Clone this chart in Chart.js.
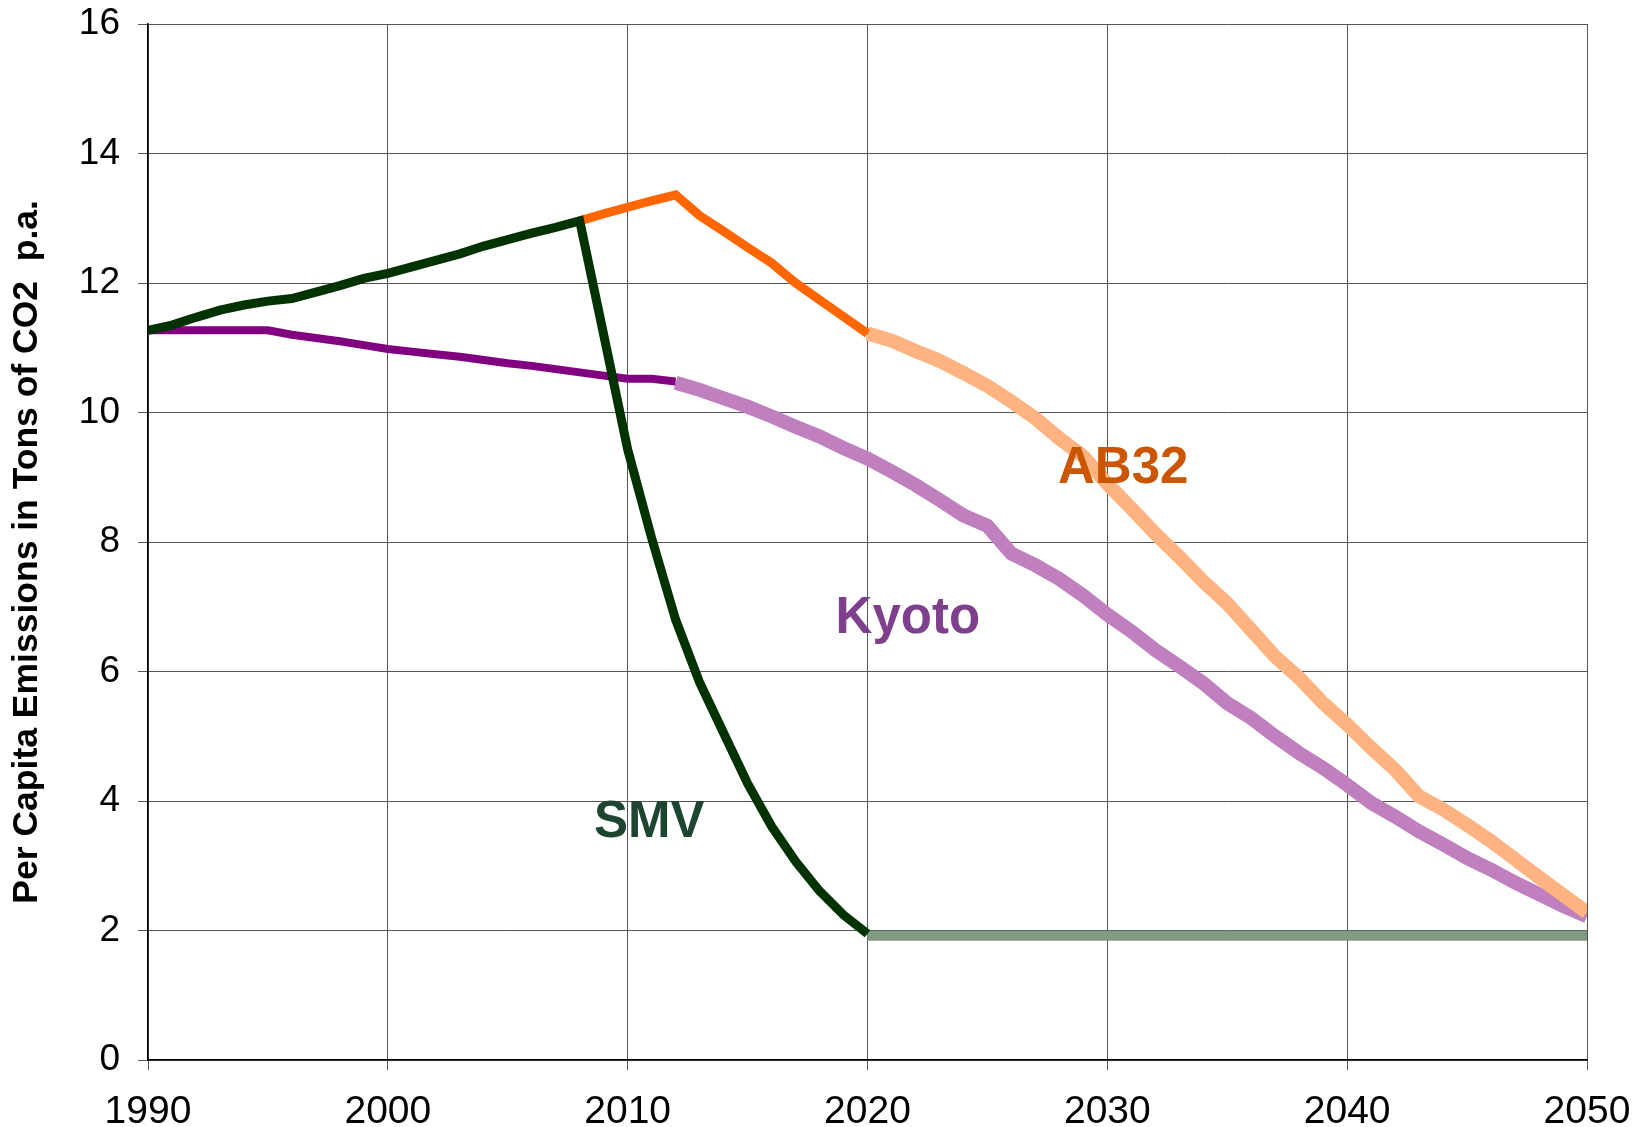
<!DOCTYPE html>
<html>
<head>
<meta charset="utf-8">
<title>Per Capita Emissions</title>
<script src="https://cdn.jsdelivr.net/npm/chart.js@4.4.0/dist/chart.umd.min.js"></script>
<style>
html, body { margin: 0; padding: 0; background: #fff; }
</style>
</head>
<body>
<canvas id="myChart" width="1637" height="1127"></canvas>
<script>
// axis ticks
var xTicks = [1990, 2000, 2010, 2020, 2030, 2040, 2050];
var yTicks = [0, 2, 4, 6, 8, 10, 12, 14, 16];

// SMV: historic + path down, then the flat target
var smvYears = [1990, 1991, 1992, 1993, 1994, 1995, 1996, 1997, 1998, 1999, 2000,
    2001, 2002, 2003, 2004, 2005, 2006, 2007, 2008, 2009, 2010,
    2011, 2012, 2013, 2014, 2015, 2016, 2017, 2018, 2019, 2020];
var smvValues = [11.27, 11.35, 11.47, 11.58, 11.66, 11.72, 11.76, 11.86, 11.96, 12.07, 12.15,
    12.25, 12.35, 12.45, 12.57, 12.67, 12.77, 12.86, 12.96, 11.2, 9.43,
    8.06, 6.8, 5.83, 5.05, 4.27, 3.61, 3.07, 2.61, 2.24, 1.95];
var smvTargetYears = [2020, 2050];
var smvTargetValues = [1.92, 1.92];

// Kyoto
var kyotoYears = [1990, 1991, 1992, 1993, 1994, 1995, 1996, 1997, 1998, 1999, 2000,
    2001, 2002, 2003, 2004, 2005, 2006, 2007, 2008, 2009, 2010, 2011, 2012];
var kyotoValues = [11.27, 11.27, 11.27, 11.27, 11.27, 11.27, 11.2, 11.15, 11.1, 11.04, 10.98,
    10.94, 10.9, 10.86, 10.81, 10.76, 10.72, 10.67, 10.62, 10.57, 10.52, 10.52, 10.48];
var kyotoPlanYears = [2012, 2013, 2014, 2015, 2016, 2017, 2018, 2019, 2020,
    2021, 2022, 2023, 2024, 2025, 2026, 2027, 2028, 2029, 2030,
    2031, 2032, 2033, 2034, 2035, 2036, 2037, 2038, 2039, 2040,
    2041, 2042, 2043, 2044, 2045, 2046, 2047, 2048, 2049, 2050];
var kyotoPlanValues = [10.46, 10.35, 10.22, 10.09, 9.94, 9.78, 9.63, 9.45, 9.29,
    9.09, 8.88, 8.65, 8.41, 8.25, 7.82, 7.64, 7.43, 7.17, 6.88,
    6.62, 6.33, 6.08, 5.82, 5.51, 5.28, 5.0, 4.74, 4.51, 4.25,
    3.97, 3.76, 3.53, 3.33, 3.12, 2.94, 2.74, 2.56, 2.38, 2.22];

// AB32
var ab32Years = [2008, 2009, 2010, 2011, 2012, 2013, 2014, 2015, 2016, 2017, 2018, 2019, 2020];
var ab32Values = [12.96, 13.07, 13.17, 13.27, 13.36, 13.04, 12.8, 12.55, 12.31, 12.0, 11.74, 11.48, 11.22];
var ab32PlanYears = [2020, 2021, 2022, 2023, 2024, 2025, 2026, 2027, 2028, 2029, 2030,
    2031, 2032, 2033, 2034, 2035, 2036, 2037, 2038, 2039, 2040,
    2041, 2042, 2043, 2044, 2045, 2046, 2047, 2048, 2049, 2050];
var ab32PlanValues = [11.22, 11.11, 10.95, 10.8, 10.61, 10.41, 10.17, 9.91, 9.6, 9.32, 8.9,
    8.52, 8.13, 7.77, 7.39, 7.05, 6.64, 6.23, 5.9, 5.51, 5.18,
    4.82, 4.48, 4.07, 3.87, 3.63, 3.38, 3.1, 2.82, 2.55, 2.28];

// in-chart labels
var labelText = ['AB32', 'Kyoto', 'SMV'];
var labelYear = [2030.66, 2021.68, 2010.9];
var labelValue = [8.91, 6.59, 3.44];
var labelColors = ['#CC5500', '#7E3F8C', '#1E4530'];

var FONT = '"Liberation Sans", Arial, sans-serif';

function toPoints(years, values) {
    var pts = [];
    for (var i = 0; i < years.length; i++) {
        pts.push({x: years[i], y: values[i]});
    }
    return pts;
}

function line(data, color, width) {
    return {
        data: data,
        borderColor: color,
        borderWidth: width,
        pointRadius: 0,
        tension: 0,
        fill: false,
        borderCapStyle: 'butt',
        borderJoinStyle: 'miter'
    };
}

var labelPlugin = {
    id: 'seriesLabels',
    afterDatasetsDraw: function (chart) {
        var ctx = chart.ctx;
        var xs = chart.scales.x, ys = chart.scales.y;
        ctx.save();
        ctx.font = 'bold 51px ' + FONT;
        ctx.textAlign = 'center';
        ctx.textBaseline = 'alphabetic';
        for (var i = 0; i < labelText.length; i++) {
            ctx.fillStyle = labelColors[i];
            ctx.fillText(labelText[i], xs.getPixelForValue(labelYear[i]), ys.getPixelForValue(labelValue[i]));
        }
        ctx.restore();
    }
};

// first dataset ends up on top
var chartdata = {
    datasets: [
        line(toPoints(smvYears, smvValues), '#003300', 9),
        line(toPoints(ab32Years, ab32Values), '#FF6600', 9),
        line(toPoints(kyotoYears, kyotoValues), '#800080', 8),
        line(toPoints(ab32PlanYears, ab32PlanValues), '#FFB380', 14),
        line(toPoints(kyotoPlanYears, kyotoPlanValues), '#C080C0', 14),
        line(toPoints(smvTargetYears, smvTargetValues), '#809980', 10)
    ]
};

var barGraph = new Chart(document.getElementById('myChart'), {
    type: 'line',
    data: chartdata,
    plugins: [labelPlugin],
    options: {
        responsive: false,
        animation: false,
        layout: { padding: { top: 24, right: 50, bottom: 0, left: 0 } },
        plugins: {
            legend: { display: false },
            tooltip: { enabled: false }
        },
        scales: {
            x: {
                type: 'linear',
                min: 1990,
                max: 2050,
                afterBuildTicks: function (scale) {
                    scale.ticks = xTicks.map(function (v) { return {value: v}; });
                },
                afterFit: function (scale) {
                    scale.height = 67;
                    scale.paddingLeft = 0;
                    scale.paddingRight = 0;
                },
                ticks: {
                    color: '#000',
                    padding: 19,
                    maxRotation: 0,
                    font: { family: FONT, size: 39 },
                    callback: function (v) { return String(v); }
                },
                grid: { color: '#555', lineWidth: 1, tickLength: 10, tickColor: '#555' },
                border: { color: '#000', width: 1.5 }
            },
            y: {
                min: 0,
                max: 16,
                afterBuildTicks: function (scale) {
                    scale.ticks = yTicks.map(function (v) { return {value: v}; });
                },
                afterFit: function (scale) {
                    scale.width = 148;
                    scale.paddingTop = 0;
                    scale.paddingBottom = 0;
                },
                ticks: {
                    color: '#000',
                    padding: 18,
                    font: { family: FONT, size: 37 }
                },
                grid: { color: '#555', lineWidth: 1, tickLength: 10, tickColor: '#555' },
                border: { color: '#000', width: 1.5 },
                title: {
                    display: true,
                    // trailing spaces nudge the rotated text a little lower
                    text: 'Per Capita Emissions in Tons of CO2  p.a.  ',
                    color: '#000',
                    padding: { top: 6, bottom: 0 },
                    font: { family: FONT, size: 35.5, weight: 'bold' }
                }
            }
        }
    }
});
</script>
</body>
</html>
